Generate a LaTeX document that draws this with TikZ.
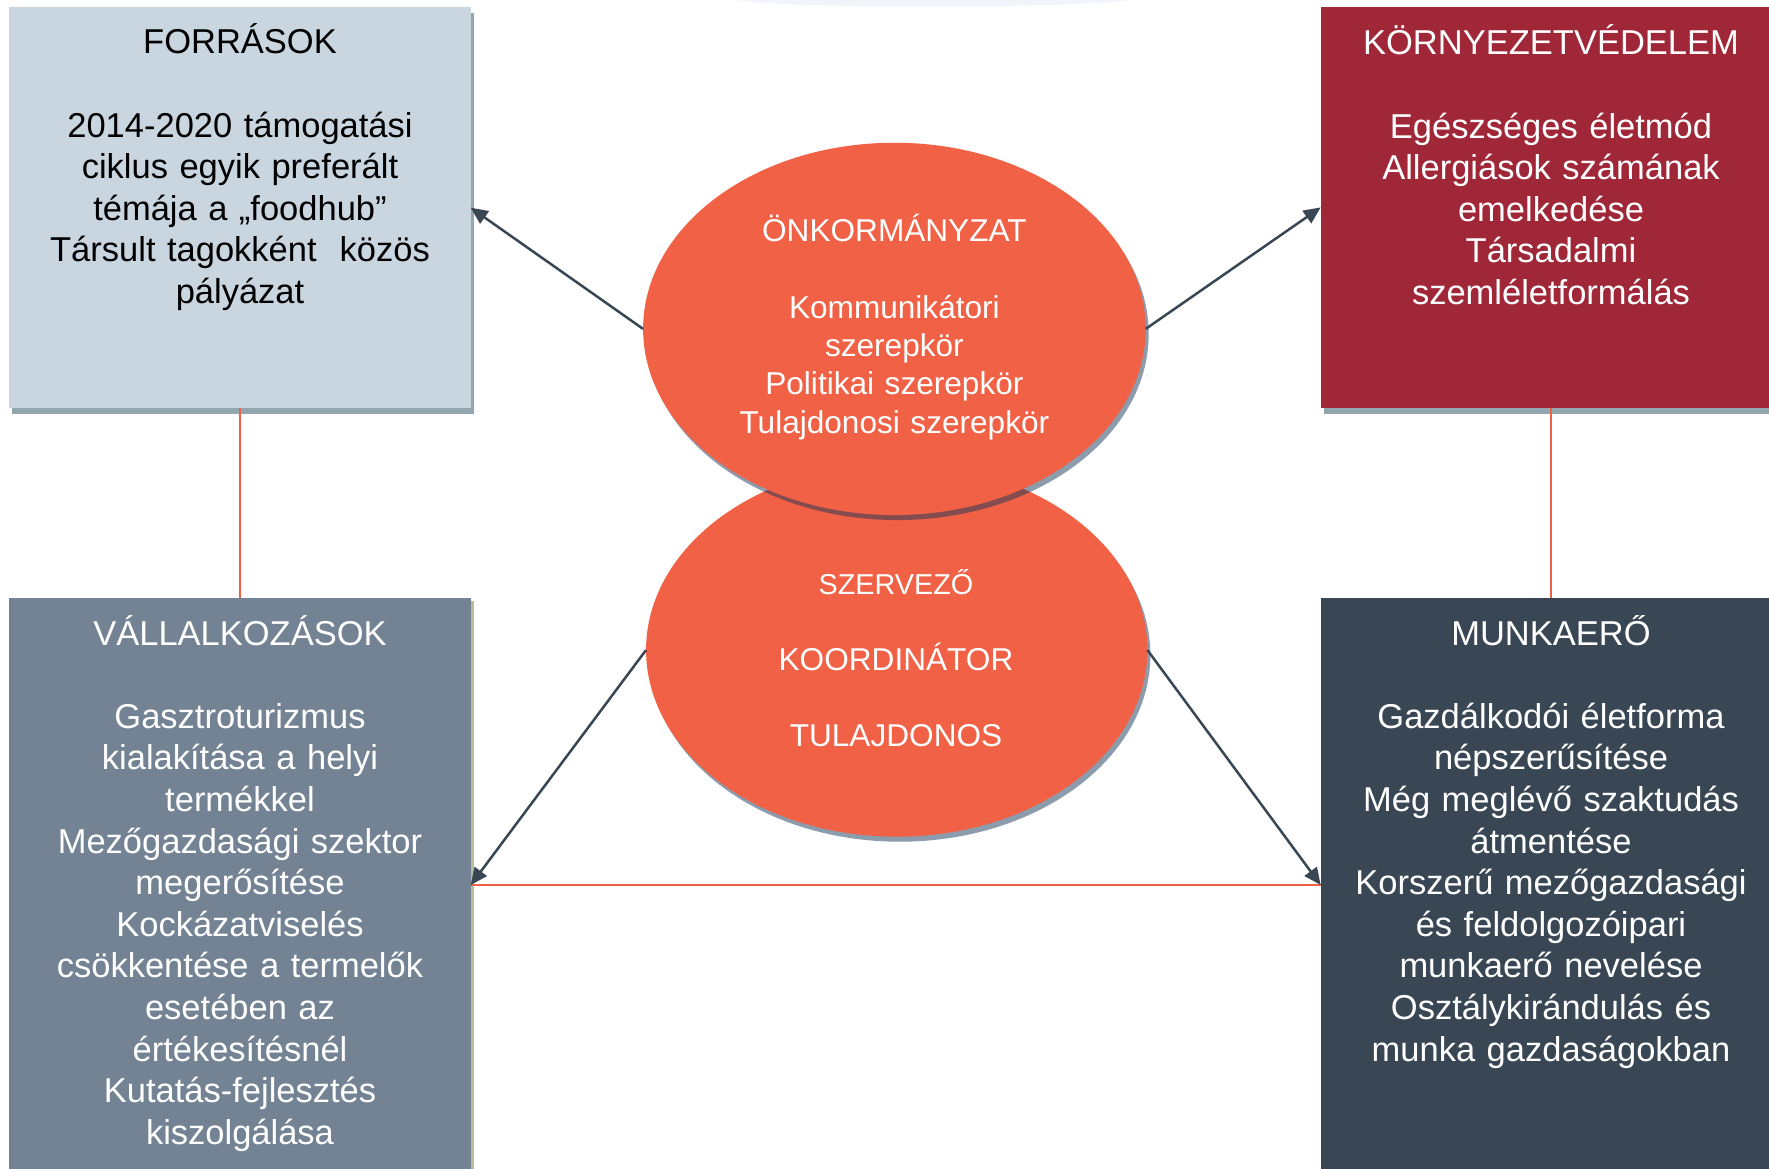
\documentclass[tikz,border=0pt]{standalone}
\usepackage{fontspec}
\setmainfont{Liberation Sans}
\usetikzlibrary{shapes.geometric,arrows.meta,shadows}
\definecolor{forrc}{RGB}{201,214,223}
\definecolor{kornyc}{RGB}{160,39,55}
\definecolor{vallc}{RGB}{115,131,148}
\definecolor{munkac}{RGB}{57,70,84}
\definecolor{ellc}{RGB}{240,97,69}
\definecolor{arrc}{RGB}{57,70,84}
\definecolor{linec}{RGB}{240,97,69}
\definecolor{eshadow}{RGB}{27,57,91}
\definecolor{bshadow}{RGB}{146,166,175}
\definecolor{gshadow}{RGB}{181,191,155}
\definecolor{topfaint}{RGB}{215,225,243}
\begin{document}
\begin{tikzpicture}[x=1pt,y=-1pt,
  box/.style={rectangle, inner sep=0pt, outer sep=0pt},
  boxshadow/.style={general shadow={shadow xshift=3pt, shadow yshift=-6pt, fill=#1}},
  boxtext/.style={inner sep=0pt, anchor=base, align=center, text width=440pt,
    font=\fontsize{34.5}{41.6}\selectfont},
  oval/.style={ellipse, fill=ellc, inner sep=0pt, outer sep=0pt,
    general shadow={shadow xshift=3pt, shadow yshift=-5pt, fill=eshadow, opacity=0.5}},
  ovaltext/.style={inner sep=0pt, anchor=base, align=center, text width=470pt, text=white},
  arr/.style={draw=arrc, line width=2.5pt, -{Triangle[length=17pt,width=15pt]}},
  orline/.style={draw=linec, line width=2pt}]
\useasboundingbox (0,0) rectangle (1769,1169);
\clip (0,0) rectangle (1769,1169);

% faint strip at the top
\fill[topfaint, opacity=0.35] (735,0) .. controls (800,9) and (1060,9) .. (1130,0) -- cycle;

% boxes
\node[box, fill=forrc, boxshadow=bshadow, minimum width=461.4pt, minimum height=400.7pt] (forr) at (240,207.7) {};
\node[box, fill=kornyc, boxshadow=bshadow, minimum width=460.3pt, minimum height=400.2pt] (korny) at (1550.85,207.4) {};
\node[box, fill=vallc, general shadow={shadow xshift=3pt, shadow yshift=-3pt, fill=gshadow}, minimum width=461.4pt, minimum height=600pt] (vall) at (240,898.3) {};
\node[box, fill=munkac, minimum width=460.3pt, minimum height=600pt] (munka) at (1550.85,898.3) {};

% box texts
\node[boxtext, text=black] (forrt) at (240,54)
  {FORRÁSOK\\[41.6pt]2014-2020 támogatási\\ciklus egyik preferált\\témája a „foodhub”\\Társult tagokként~ közös\\pályázat};
\node[boxtext, text=white] (kornyt) at (1551,55)
  {KÖRNYEZETVÉDELEM\\[41.6pt]Egészséges életmód\\Allergiások számának\\emelkedése\\Társadalmi\\szemléletformálás};
\node[boxtext, text=white] (vallt) at (240,645)
  {VÁLLALKOZÁSOK\\[41.6pt]Gasztroturizmus\\kialakítása a helyi\\termékkel\\Mezőgazdasági szektor\\megerősítése\\Kockázatviselés\\csökkentése a termelők\\esetében az\\értékesítésnél\\Kutatás-fejlesztés\\kiszolgálása};
\node[boxtext, text=white] (munkat) at (1551,645)
  {MUNKAERŐ\\[41.6pt]Gazdálkodói életforma\\népszerűsítése\\Még meglévő szaktudás\\átmentése\\Korszerű mezőgazdasági\\és feldolgozóipari\\munkaerő nevelése\\Osztálykirándulás és\\munka gazdaságokban};

% ellipses
\node[oval, minimum width=501.3pt, minimum height=373.4pt] (szerv) at (896.7,650) {};
\node[oval, minimum width=502.6pt, minimum height=372.3pt] (onk) at (894.4,328.9) {};

\node[ovaltext, font=\fontsize{31.6}{38.3}\selectfont] (onkt) at (894.4,241.7)
  {ÖNKORMÁNYZAT\\[38.3pt]Kommunikátori\\szerepkör\\Politikai szerepkör\\Tulajdonosi szerepkör};
\node[ovaltext, font=\fontsize{31.6}{76.3}\selectfont] (szervt) at (896,594)
  {{\fontsize{28.8}{76.3}\selectfont SZERVEZŐ}\\KOORDINÁTOR\\TULAJDONOS};

% connectors
\coordinate (pl) at (470.7,885);
\coordinate (pr) at (1320.7,885);
\draw[orline] (forr.south) -- (vall.north);
\draw[orline] (korny.south) -- (munka.north);
\draw[orline] (pl) -- (pr);
\draw[arr] (onk.west) -- (forr.east);
\draw[arr] (onk.east) -- (korny.west);
\draw[arr] (szerv.west) -- (pl);
\draw[arr] (szerv.east) -- (pr);
\end{tikzpicture}
\end{document}
